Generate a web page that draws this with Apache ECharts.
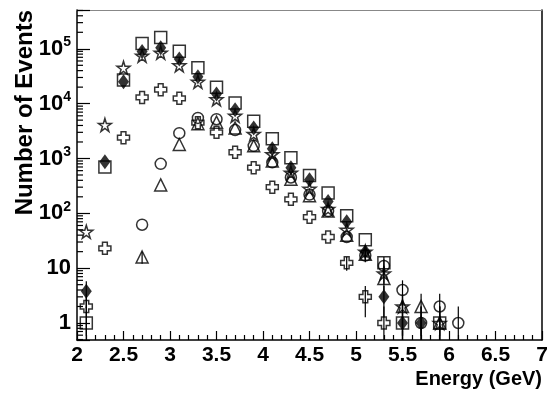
<!DOCTYPE html>
<html><head><meta charset="utf-8">
<script src="https://cdn.jsdelivr.net/npm/echarts@6/dist/echarts.min.js"></script>
<style>html,body{margin:0;padding:0;background:#fff}#c{width:547px;height:395px}</style>
</head><body><div id="c"></div>
<script>
// Energy bins (GeV)
const energy = [2.1,2.3,2.5,2.7,2.9,3.1,3.3,3.5,3.7,3.9,4.1,4.3,4.5,4.7,4.9,5.1,5.3,5.5,5.7,5.9,6.1];
// Event counts per sample (null = no point)
const squareVals   = [1,700,27000,125000,160000,90000,45000,20000,10300,4800,2300,1030,490,235,90,33,12.5,1,null,1,null];
const diamondVals  = [3.8,870,25000,89000,105000,65000,31000,15000,7700,3600,1500,680,410,165,70,20,3,1,1,null,null];
const starVals     = [46,4100,45000,75000,85000,50000,25000,12000,6000,2800,1200,550,280,120,50,20,8,2,null,1,null];
const crossVals    = [2,23,2400,13000,18000,12500,4500,3000,1300,680,300,180,85,37,12.5,3,1,null,null,null,null];
const circleVals   = [null,null,null,62,800,2900,5500,5200,3300,1700,850,450,220,110,37,17,11,4,1,2,1];
const triangleVals = [null,null,null,16,330,1800,4300,4600,3600,1700,900,420,210,110,40,18,6.5,2,2,1,null];
// Axis settings
const xMin = 2, xMax = 7, xStep = 0.5;
const yMin = 0.49, yMax = 5.1e5;
const yMajorTicks = [1,10,100,1000,10000,100000];
const xTitle = 'Energy (GeV)';
const yTitle = 'Number of Events';

const FONT = 'Liberation Sans';
const pairs = vals => energy.map((e,i) => vals[i] == null ? null : [e, vals[i]]).filter(p => p);

// minor ticks for log axis (2..9 per decade)
const yMinor = [];
for (let d = -1; d <= 5; d++) for (let m = 2; m <= 9; m++) {
  const v = m * Math.pow(10, d);
  if (v > yMin && v < yMax) yMinor.push([xMin, v]);
}
// error bars for low counts
const allSets = [squareVals, diamondVals, starVals, crossVals, circleVals, triangleVals];
const errData = [];
allSets.forEach(s => s.forEach((v,i) => { if (v != null && v < 20) errData.push([energy[i], v]); }));

const crossPath = 'path://M3,0 H7 V3 H10 V7 H7 V10 H3 V7 H0 V3 H3 Z';
const starPath = 'path://M50,0 L61,35 L98,35 L68,57 L79,91 L50,70 L21,91 L32,57 L2,35 L39,35 Z';

function mk(name, vals, symbol, size, filled) {
  return {
    name, type: 'scatter', data: pairs(vals), symbol, symbolSize: size,
    itemStyle: filled ? {color:'#000'} : {color:'rgba(0,0,0,0)', borderColor:'#000', borderWidth:1.5},
    z: 3
  };
}

const chart = echarts.init(document.getElementById('c'), null, {renderer:'canvas'});
chart.setOption({
  animation: false,
  backgroundColor: '#fff',
  grid: {left:77, right:5, top:10, bottom:55, containLabel:false, outerBoundsMode:'none'},
  graphic: [{
    type:'text', x:25, y:10, rotation:Math.PI/2, silent:true,
    style:{text:yTitle, fill:'#000', font:'bold 24px "Liberation Sans"', align:'right', verticalAlign:'middle', textAlign:'right', textVerticalAlign:'middle'}
  }],
  xAxis: [{
    type:'value', min:xMin, max:xMax, interval:xStep, position:'bottom',
    axisLine:{lineStyle:{color:'#000', width:1.5}},
    axisTick:{inside:true, length:9, lineStyle:{color:'#000', width:1.2}},
    minorTick:{show:true, splitNumber:5, length:5, lineStyle:{color:'#000', width:1.2}},
    splitLine:{show:false},
    axisLabel:{fontSize:21, fontWeight:'bold', color:'#000', fontFamily:FONT, margin:5},
    name:xTitle, nameLocation:'end', nameGap:0,
    nameTextStyle:{fontSize:20, fontWeight:'bold', color:'#000', fontFamily:FONT, align:'right', verticalAlign:'top', padding:[29,0,0,0]}
  },{
    type:'value', min:xMin, max:xMax, position:'top',
    axisLine:{show:true, lineStyle:{color:'#888', width:1}},
    axisTick:{show:false}, axisLabel:{show:false}, splitLine:{show:false}
  }],
  yAxis: [{
    type:'log', logBase:10, min:yMin, max:yMax,
    axisLine:{show:true, lineStyle:{color:'#000', width:1.5}},
    axisTick:{inside:true, length:13, lineStyle:{color:'#000', width:1.2}},
    splitLine:{show:false},
    axisLabel:{
      fontSize:22, fontWeight:'bold', color:'#000', fontFamily:FONT, margin:6,
      formatter: v => {
        const l = Math.log10(v), e = Math.round(l);
        if (Math.abs(l - e) > 1e-6 || !yMajorTicks.includes(Math.pow(10,e))) return '';
        if (e === 0) return '1';
        if (e === 1) return '10';
        return '{b|10}{e|' + e + '}';
      },
      rich:{
        b:{fontSize:22, fontWeight:'bold', fontFamily:FONT, color:'#000'},
        e:{fontSize:14, fontWeight:'bold', fontFamily:FONT, color:'#000', padding:[0,0,13,0]}
      }
    }
  },{
    type:'log', logBase:10, min:yMin, max:yMax, position:'right',
    axisLine:{show:true, lineStyle:{color:'#000', width:1.5}},
    axisTick:{show:false}, axisLabel:{show:false}, splitLine:{show:false}
  }],
  series: [
    {
      type:'custom', data:yMinor, encode:{x:0, y:1}, silent:true, z:1, clip:false,
      renderItem:(params, api) => {
        const p = api.coord([api.value(0), api.value(1)]);
        return {type:'line', shape:{x1:p[0], y1:p[1], x2:p[0]+6, y2:p[1]}, style:{stroke:'#000', lineWidth:1.2}};
      }
    },
    {
      type:'custom', data:errData, encode:{x:0, y:1}, silent:true, z:2, clip:true,
      renderItem:(params, api) => {
        const x = api.value(0), n = api.value(1), s = Math.sqrt(n);
        const lo = Math.max(n - s, yMin), hi = n + s;
        const a = api.coord([x, hi]), b = api.coord([x, lo]);
        return {type:'line', shape:{x1:a[0], y1:a[1], x2:b[0], y2:b[1]}, style:{stroke:'#000', lineWidth:1.2}};
      }
    },
    mk('square', squareVals, 'rect', 12, false),
    mk('circle', circleVals, 'circle', 11, false),
    mk('triangle', triangleVals, 'triangle', 12, false),
    mk('star', starVals, starPath, 13, false),
    mk('cross', crossVals, crossPath, 12, false),
    mk('diamond', diamondVals, 'diamond', [11,15], true)
  ]
});
</script></body></html>
